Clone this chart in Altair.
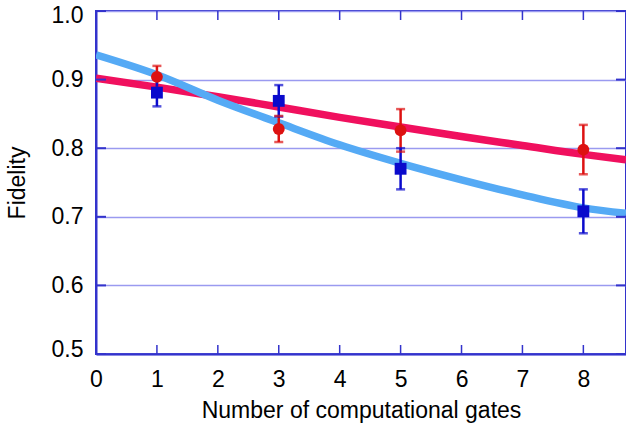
import altair as alt
import pandas as pd

# measured points
gates = [1, 3, 5, 8]
red_fid = [0.904, 0.828, 0.826, 0.798]
red_err = [0.016, 0.019, 0.031, 0.036]
blue_fid = [0.881, 0.869, 0.770, 0.708]
blue_err = [0.020, 0.023, 0.030, 0.032]

# fitted curves
fit_x = [0, 1, 2, 3, 4, 5, 6, 7, 8, 8.7]
red_fit = [0.902, 0.889, 0.875, 0.860, 0.845, 0.831, 0.817, 0.804, 0.791, 0.783]
blue_fit = [0.936, 0.907, 0.870, 0.837, 0.805, 0.778, 0.754, 0.732, 0.713, 0.705]

x_ticks = [0, 1, 2, 3, 4, 5, 6, 7, 8]
y_ticks = [0.5, 0.6, 0.7, 0.8, 0.9, 1.0]

W, H = 530, 343
FRAME = "#3333cc"
FONT = "Liberation Sans"
FS = 23

pts = pd.DataFrame({
    "x": gates * 2,
    "y": red_fid + blue_fid,
    "lo": [v - e for v, e in zip(red_fid, red_err)] + [v - e for v, e in zip(blue_fid, blue_err)],
    "hi": [v + e for v, e in zip(red_fid, red_err)] + [v + e for v, e in zip(blue_fid, blue_err)],
    "s": ["red pt"] * 4 + ["blue pt"] * 4,
})
fits = pd.DataFrame({"x": fit_x * 2, "y": red_fit + blue_fit,
                     "s": ["red fit"] * len(fit_x) + ["blue fit"] * len(fit_x)})

xs = alt.Scale(domain=[0, 8.7], nice=False, zero=False)
ys = alt.Scale(domain=[0.5, 1.0], nice=False, zero=False)

xax = alt.Axis(values=x_ticks, format="d", grid=False, title="Number of computational gates",
               labelPadding=14, titlePadding=8, labelFlush=False)
yax = alt.Axis(values=y_ticks, format=".1f", grid=True, title="Fidelity",
               labelPadding=13, titlePadding=22, labelFlush=True, labelFlushOffset=7)

color_scale = alt.Scale(domain=["red fit", "blue fit", "red pt", "blue pt"],
                        range=["#f0105e", "#55aaf5", "#dd1111", "#0a0acc"])
col = alt.Color("s:N", scale=color_scale, legend=None)

grid_layer = alt.Chart(pd.DataFrame({"x": [0], "y": [0.5]})).mark_point(opacity=0).encode(
    x=alt.X("x:Q", scale=xs, axis=xax), y=alt.Y("y:Q", scale=ys, axis=yax))

lines = alt.Chart(fits).mark_line(strokeWidth=7.5, interpolate="monotone", clip=True).encode(
    x=alt.X("x:Q", scale=xs), y=alt.Y("y:Q", scale=ys), color=col, detail="s:N")

err = alt.Chart(pts).mark_rule(strokeWidth=2.5).encode(
    x=alt.X("x:Q", scale=xs), y=alt.Y("lo:Q", scale=ys), y2="hi:Q", color=col)
cap_lo = alt.Chart(pts).mark_tick(thickness=2.5, size=9, orient="horizontal").encode(
    x=alt.X("x:Q", scale=xs), y=alt.Y("lo:Q", scale=ys), color=col)
cap_hi = alt.Chart(pts).mark_tick(thickness=2.5, size=9, orient="horizontal").encode(
    x=alt.X("x:Q", scale=xs), y=alt.Y("hi:Q", scale=ys), color=col)
marks = alt.Chart(pts).mark_point(filled=True, size=140, opacity=1).encode(
    x=alt.X("x:Q", scale=xs), y=alt.Y("y:Q", scale=ys), color=col,
    shape=alt.Shape("s:N", scale=alt.Scale(domain=["red pt", "blue pt"], range=["circle", "square"]), legend=None))

xt = pd.DataFrame({"x": x_ticks})
yt = pd.DataFrame({"y": y_ticks})
tick_b = alt.Chart(xt).mark_rule(color=FRAME, strokeWidth=1.5).encode(
    x=alt.X("x:Q", scale=xs), y=alt.value(H), y2=alt.value(H - 9))
tick_t = alt.Chart(xt).mark_rule(color=FRAME, strokeWidth=1.5).encode(
    x=alt.X("x:Q", scale=xs), y=alt.value(0), y2=alt.value(9))
tick_l = alt.Chart(yt).mark_rule(color=FRAME, strokeWidth=2).encode(
    y=alt.Y("y:Q", scale=ys), x=alt.value(0), x2=alt.value(10))
tick_r = alt.Chart(yt).mark_rule(color=FRAME, strokeWidth=2).encode(
    y=alt.Y("y:Q", scale=ys), x=alt.value(W - 10), x2=alt.value(W))

chart = alt.layer(grid_layer, lines, err, cap_lo, cap_hi, marks,
                  tick_b, tick_t, tick_l, tick_r).properties(
    width=W, height=H,
    background="white",
    autosize=alt.AutoSizeParams(type="none"),
    padding={"left": 96, "top": 11, "right": 0, "bottom": 75},
).configure_view(stroke=FRAME, strokeWidth=2).configure_axis(
    tickSize=0, domain=True, domainColor=FRAME, domainWidth=2,
    gridColor="#9a9af0", gridWidth=1.5,
    labelFontSize=FS, labelFont=FONT, labelColor="black",
    titleFontSize=FS, titleFont=FONT, titleFontWeight="normal", titleColor="black",
)

chart.save("out.html", embed_options={"renderer": "svg", "actions": False})
